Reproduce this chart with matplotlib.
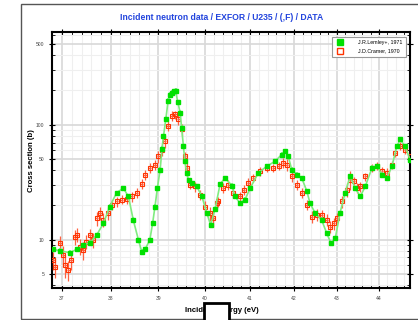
import numpy as np
import matplotlib
matplotlib.use('Agg')
import matplotlib.pyplot as plt
from matplotlib.patches import Rectangle
from matplotlib.lines import Line2D

# J.R.Lemley+, 1971 (green)
green_E = [36.82, 36.96, 37.16, 37.30, 37.43, 37.57, 37.71, 37.85, 37.98, 38.12,
           38.26, 38.37, 38.47, 38.58, 38.65, 38.72, 38.82, 38.88, 38.93, 38.98,
           39.04, 39.08, 39.11, 39.16, 39.21, 39.25, 39.29, 39.33, 39.37, 39.42,
           39.47, 39.50, 39.54, 39.57, 39.61, 39.65, 39.72, 39.83, 39.94, 40.05,
           40.13, 40.23, 40.34, 40.45, 40.60, 40.67, 40.78, 40.89, 41.01, 41.19,
           41.38, 41.57, 41.72, 41.80, 41.87, 41.95, 42.07, 42.18, 42.30, 42.37,
           42.49, 42.64, 42.76, 42.86, 42.96, 43.07, 43.19, 43.31, 43.43, 43.55,
           43.67, 43.83, 43.95, 44.07, 44.19, 44.31, 44.43, 44.51, 44.63, 44.75]
green_xs = [8.25, 8.01, 7.70, 8.25, 8.99, 9.41, 10.99, 13.91, 19.43, 25.45,
            28.14, 23.76, 14.87, 9.94, 7.85, 8.25, 9.94, 13.9, 19.43, 28.0,
            40.7, 62.0, 79.0, 111.0, 161.0, 183.0, 190.0, 196.0, 197.0, 156.0,
            127.0, 94.0, 65.0, 48.0, 38.0, 33.0, 31.0, 29.06, 23.76, 17.01,
            13.44, 18.5, 30.5, 34.42, 29.5, 23.76, 20.80, 22.23, 28.14, 38.05,
            43.47, 48.06, 55.01, 58.77, 53.15, 40.68, 36.78, 34.42, 26.28, 20.80,
            17.01, 14.87, 11.37, 9.30, 10.28, 17.01, 25.45, 35.54, 28.14, 23.76,
            29.06, 42.09, 43.47, 36.78, 34.42, 43.47, 65.0, 74.37, 65.0, 49.74]
green_rel_err = 0.05

# J.D.Cramer, 1970 (red)
red_E = [36.82, 36.86, 36.96, 37.03, 37.07, 37.13, 37.18, 37.26, 37.31, 37.37,
         37.43, 37.50, 37.57, 37.64, 37.71, 37.78, 37.85, 37.95, 38.02, 38.12,
         38.23, 38.33, 38.44, 38.54, 38.65, 38.72, 38.82, 38.93, 39.00, 39.07,
         39.14, 39.21, 39.29, 39.36, 39.43, 39.50, 39.57, 39.61, 39.68, 39.79,
         39.90, 40.01, 40.12, 40.19, 40.27, 40.30, 40.41, 40.52, 40.63, 40.78,
         40.86, 40.97, 41.08, 41.23, 41.38, 41.53, 41.65, 41.76, 41.84, 41.95,
         42.07, 42.18, 42.30, 42.41, 42.53, 42.64, 42.76, 42.84, 42.92, 43.00,
         43.11, 43.23, 43.31, 43.39, 43.47, 43.55, 43.67, 43.83, 43.95, 44.07,
         44.19, 44.31, 44.39, 44.51, 44.63, 44.75]
red_xs = [6.65, 5.81, 9.41, 7.35, 6.01, 5.43, 6.65, 10.62, 10.99, 8.69,
          8.13, 9.61, 10.99, 9.94, 15.39, 17.01, 14.87, 17.01, 20.10, 21.49,
          22.23, 22.54, 23.76, 25.45, 30.6, 36.78, 42.09, 44.98, 53.15, 60.82,
          71.87, 97.2, 118.9, 123.0, 111.3, 90.97, 53.15, 42.09, 30.07, 29.06,
          24.59, 19.43, 17.01, 15.39, 20.80, 21.49, 28.14, 30.07, 25.45, 23.76,
          27.19, 31.1, 34.42, 39.30, 42.09, 42.09, 43.47, 46.55, 44.98, 35.54,
          30.07, 25.45, 20.10, 15.89, 16.44, 16.44, 14.87, 12.99, 13.91, 15.39,
          21.49, 27.19, 33.26, 32.14, 28.14, 29.06, 35.54, 42.09, 43.47, 39.30,
          38.05, 44.98, 56.92, 65.0, 60.82, 53.15]
red_rel_err = [0.18, 0.2, 0.15, 0.2, 0.22, 0.2, 0.18, 0.15, 0.14, 0.16,
               0.18, 0.14, 0.12, 0.15, 0.14, 0.12, 0.14, 0.12, 0.1, 0.1,
               0.09, 0.09, 0.1, 0.1, 0.1, 0.1, 0.1, 0.1, 0.12, 0.12,
               0.12, 0.1, 0.1, 0.08, 0.1, 0.12, 0.1, 0.1, 0.09, 0.1,
               0.1, 0.12, 0.14, 0.16, 0.12, 0.1, 0.1, 0.1, 0.1, 0.1,
               0.1, 0.1, 0.08, 0.08, 0.08, 0.08, 0.08, 0.1, 0.12, 0.1,
               0.1, 0.1, 0.1, 0.12, 0.12, 0.1, 0.12, 0.12, 0.12, 0.1,
               0.12, 0.14, 0.18, 0.1, 0.1, 0.1, 0.08, 0.08, 0.08, 0.1,
               0.1, 0.08, 0.08, 0.08, 0.08, 0.08]
red_dE = 0.035

x_major = [37, 38, 39, 40, 41, 42, 43, 44]
y_major = [5, 10, 50, 100, 500]
y_minor = [4, 6, 7, 8, 9, 20, 30, 40, 60, 70, 80, 90, 200, 300, 400, 600]

plt.rcParams['font.family'] = 'Liberation Sans'

fig = plt.figure(figsize=(4.18, 3.2), dpi=100)
ax = fig.add_axes([52/418, 1-288/320, 358/418, 256/320])

# outer frame
fig.patches.append(Rectangle((21/418, 1/320), 1.0, 0.9845, fill=False, ec='#555555',
                             lw=1.0, transform=fig.transFigure, clip_on=False))

ax.set_xscale('log')
ax.set_yscale('log')
ax.set_xlim(36.8, 44.75)
ax.set_ylim(3.8, 640)

ax.set_xticks(x_major)
ax.set_xticklabels([str(v) for v in x_major])
ax.set_xticks([v for v in np.arange(36.8, 44.8, 0.2) if abs(v - round(v)) > 0.01], minor=True)
ax.set_yticks(y_major)
ax.set_yticklabels([str(v) for v in y_major])
ax.set_yticks(y_minor, minor=True)
ax.xaxis.set_minor_formatter(plt.NullFormatter())
ax.yaxis.set_minor_formatter(plt.NullFormatter())

ax.set_axisbelow(True)
ax.grid(which='major', color='#d8d8d8', lw=1.2)
ax.grid(which='minor', color='#efefef', lw=0.8)
ax.tick_params(which='major', direction='inout', length=5, width=0.8, labelsize=3.6,
               labelcolor='#444444', top=True, right=True, pad=3)
ax.tick_params(which='minor', direction='in', length=2.5, width=0.6, top=True, right=True)
for s in ax.spines.values():
    s.set_linewidth(1.5)

red_E = np.array(red_E)
red_xs = np.array(red_xs)
green_E = np.array(green_E)
green_xs = np.array(green_xs)

ax.errorbar(red_E, red_xs, yerr=red_xs*np.array(red_rel_err), xerr=red_dE, fmt='s',
            mfc='none', mec='#ff3300', ms=3.5, mew=0.8, ecolor='#ff6040',
            elinewidth=0.9, capsize=0, zorder=3)
ax.plot(green_E, green_xs, color='#80ec80', lw=1.2, zorder=3.5)
ax.errorbar(green_E, green_xs, yerr=green_xs*green_rel_err, fmt='s', color='#00e000',
            ms=2.8, mec='#00e000', ecolor='#80ec80', elinewidth=1.2, capsize=0, zorder=4)

handles = [Line2D([], [], ls='none', marker='s', color='#00e000', ms=5),
           Line2D([], [], ls='none', marker='s', mfc='none', mec='#ff3300', mew=1.0, ms=4.5)]
leg = ax.legend(handles, ['J.R.Lemley+, 1971', 'J.D.Cramer, 1970'], loc='upper right',
                bbox_to_anchor=(0.9888, 0.980), borderaxespad=0, fontsize=3.8,
                fancybox=False, edgecolor='#999999', framealpha=1,
                handletextpad=2.5, borderpad=0.6, labelspacing=0.6)
leg.get_frame().set_linewidth(0.8)
leg.set_zorder(6)

fig.text(222/418, 1-17/320, 'Incident neutron data / EXFOR / U235 / (,F) / DATA',
         color='#2244dd', fontsize=6.2, weight='bold', ha='center', va='center')
fig.text(221.5/418, 1-311/320, 'Incident energy (eV)', fontsize=5.6, weight='bold',
         ha='center', va='center')
fig.text(31.5/418, 1-161/320, 'Cross section (b)', fontsize=5.6, weight='bold',
         rotation=90, ha='center', va='center')

# box over the x label
fig.patches.append(Rectangle((204/418, -0.02), 25.5/418, 0.02 + (320-303.3)/320,
                             fc='white', ec='black', lw=2, transform=fig.transFigure,
                             clip_on=False, zorder=10))

fig.savefig('out.png', dpi=100)
